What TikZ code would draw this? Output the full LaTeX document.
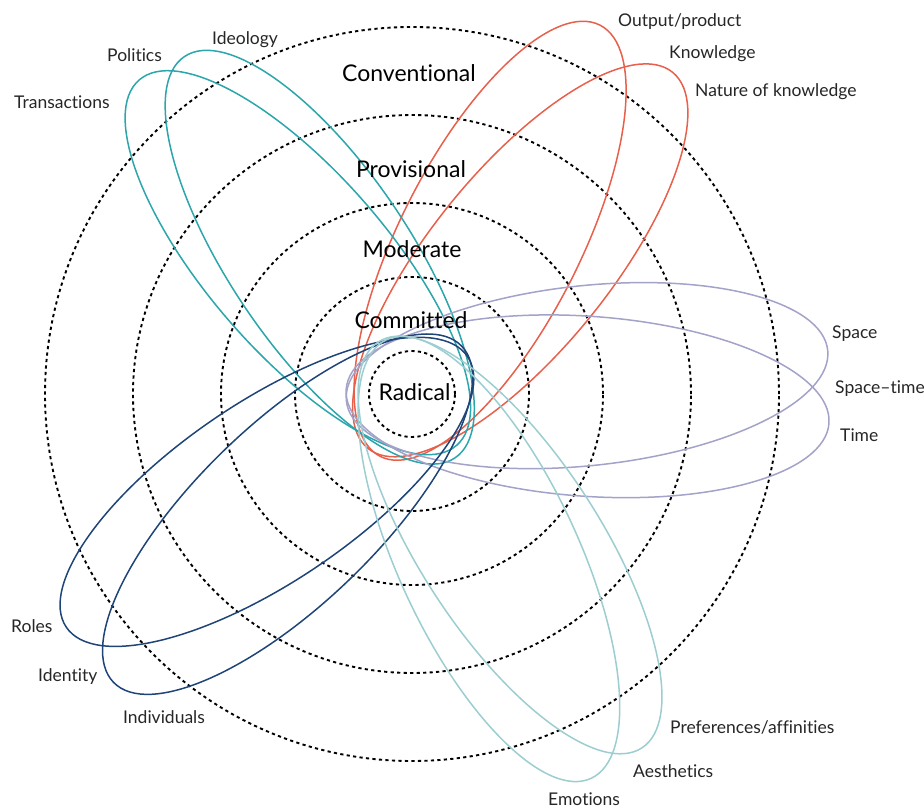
\documentclass[tikz,border=0pt]{standalone}
\usepackage{fontspec}
\setmainfont{Lato}[Ligatures=NoCommon]
\usetikzlibrary{calc}
\definecolor{coral}{HTML}{E8604C}
\definecolor{seateal}{HTML}{2BA6AA}
\definecolor{lilac}{HTML}{A3A2C8}
\definecolor{navy}{HTML}{1F4478}
\definecolor{paleteal}{HTML}{9CCDD0}
\tikzset{
  ring/.style={
    draw=black,
    line width=1.9pt,
    dash pattern=on 3.2pt off 3.3pt
    },
  petal/.style={
    line width=1.5pt
    },
  level/.style={
    anchor=base,
    inner sep=0pt,
    font=\fontsize{23}{26}\selectfont
    },
  tag/.style={
    anchor=base west,
    inner sep=0pt,
    text=black!85,
    font=\fontsize{17.5}{20}\selectfont
    },
}

\begin{document}
\begin{tikzpicture}[x=1pt,y=1pt]
\useasboundingbox (0,0) rectangle (924,-807);
\coordinate (O) at (412,-394);
\draw[ring] (O) circle [radius=43];
\draw[ring] (O) circle [radius=117];
\draw[ring] (O) circle [radius=191];
\draw[ring] (O) circle [radius=279];
\draw[ring] (O) circle [radius=367];

\draw[petal,draw=coral,shift={(O)},rotate=63] (172,0) ellipse [x radius=242, y radius=90];
\draw[petal,draw=coral,shift={(O)},rotate=51] (172,0) ellipse [x radius=242, y radius=90];
\draw[petal,draw=seateal,shift={(O)},rotate=124] (165,0) ellipse [x radius=242, y radius=90];
\draw[petal,draw=seateal,shift={(O)},rotate=131] (174,0) ellipse [x radius=242, y radius=90];
\draw[petal,draw=lilac,shift={(O)},rotate=6] (176,0) ellipse [x radius=242, y radius=90];
\draw[petal,draw=lilac,shift={(O)},rotate=-4] (176,0) ellipse [x radius=242, y radius=90];
\draw[petal,draw=navy,shift={(O)},rotate=214] (175,0) ellipse [x radius=242, y radius=90];
\draw[petal,draw=navy,shift={(O)},rotate=224] (173,0) ellipse [x radius=242, y radius=90];
\draw[petal,draw=paleteal,shift={(O)},rotate=-57] (180,0) ellipse [x radius=242, y radius=90];
\draw[petal,draw=paleteal,shift={(O)},rotate=-65] (182,0) ellipse [x radius=242, y radius=90];

\node (conventional) [level] at (409,-81.5) {Conventional};
\node (provisional) [level] at (411,-177) {Provisional};
\node (moderate) [level] at (412,-257) {Moderate};
\node (committed) [level] at (411,-328) {Committed};
\node (radical) [level] at (414.5,-400.5) {Radical};

\node (ideology) [tag] at (212,-44) {Ideology};
\node (politics) [tag] at (107,-61) {Politics};
\node (transactions) [tag] at (14,-108) {Transactions};
\node (output) [tag] at (618,-26.7) {Output/product};
\node (knowledge) [tag] at (669,-58.3) {Knowledge};
\node (nature) [tag] at (695,-96.7) {Nature of knowledge};
\node (space) [tag] at (832,-338) {Space};
\node (spacetime) [tag] at (835,-393) {Space–time};
\node (time) [tag] at (840,-441) {Time};
\node (roles) [tag] at (11,-632) {Roles};
\node (identity) [tag] at (38,-681) {Identity};
\node (individuals) [tag] at (123,-723) {Individuals};
\node (preferences) [tag] at (670,-733) {Preferences/affinities};
\node (aesthetics) [tag] at (633,-777) {Aesthetics};
\node (emotions) [tag] at (548,-805) {Emotions};
\end{tikzpicture}
\end{document}
